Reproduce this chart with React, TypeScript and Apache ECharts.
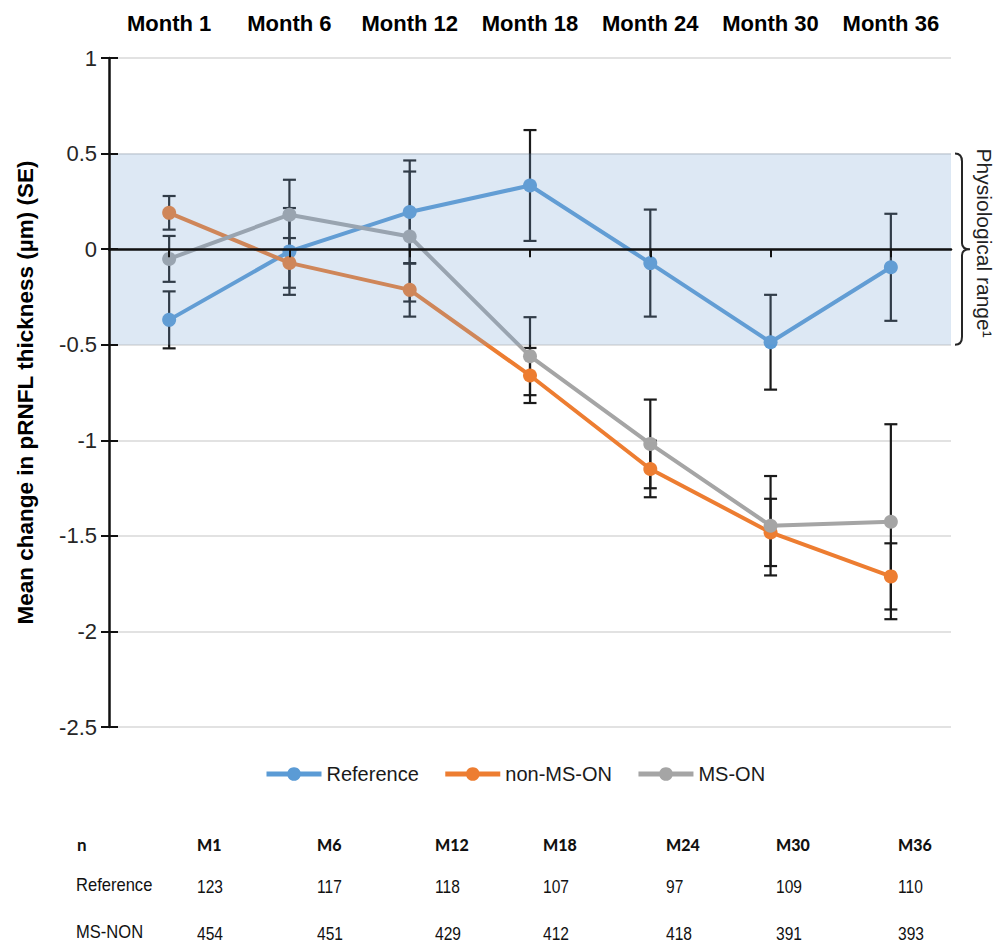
import React, { useEffect, useRef } from "react";
import * as echarts from "echarts";

// ---------- data ----------
const months = ["Month 1", "Month 6", "Month 12", "Month 18", "Month 24", "Month 30", "Month 36"];
const seriesNames = ["Reference", "non-MS-ON", "MS-ON"];

const referenceMean = [-0.37, -0.012, 0.194, 0.333, -0.073, -0.487, -0.095];
const referenceSE = [0.149, 0.227, 0.27, 0.29, 0.28, 0.248, 0.28];

const nonMsOnMean = [0.19, -0.072, -0.213, -0.661, -1.15, -1.482, -1.712];
const nonMsOnSE = [0.088, 0.13, 0.14, 0.144, 0.148, 0.176, 0.173];

const msOnMean = [-0.051, 0.18, 0.066, -0.56, -1.019, -1.447, -1.426];
const msOnSE = [0.12, 0.183, 0.34, 0.204, 0.232, 0.26, 0.51];

const physioMin = -0.5;
const physioMax = 0.5;

const tableHeader = ["M1", "M6", "M12", "M18", "M24", "M30", "M36"];
const tableRowLabels = ["Reference", "MS-NON"];
const referenceN = [123, 117, 118, 107, 97, 109, 110];
const msNonN = [454, 451, 429, 412, 418, 391, 393];

// ---------- styles / layout ----------
const COLORS = ["#5b9bd5", "#ed7d31", "#a5a5a5"];
const FONT = "'Liberation Sans', Arial, Helvetica, sans-serif";
const HEAD = "Lato, 'Open Sans', 'Liberation Sans', sans-serif";
const W = 997;
const H = 943;
const GRID = { left: 109, right: 46, top: 58, bottom: 216 };
const tableColX = [197, 317, 435, 543, 666, 776, 898];
const tableRowY = [844, 885, 932];

function errorSeries(name: string, mean: number[], se: number[]) {
  return {
    type: "custom",
    name: name + " SE",
    xAxisIndex: 0,
    yAxisIndex: 0,
    z: 1,
    silent: true,
    data: mean.map((m, i) => [i, m - se[i], m + se[i]]),
    encode: { x: 0, y: [1, 2] },
    renderItem: (params: any, api: any) => {
      const i = api.value(0);
      const lo = api.coord([i, api.value(1)]);
      const hi = api.coord([i, api.value(2)]);
      const hw = 6.5;
      const style = { stroke: "#1a1a1a", lineWidth: 2.2 };
      return {
        type: "group",
        children: [
          { type: "line", shape: { x1: lo[0], y1: lo[1], x2: hi[0], y2: hi[1] }, style },
          { type: "line", shape: { x1: lo[0] - hw, y1: lo[1], x2: lo[0] + hw, y2: lo[1] }, style },
          { type: "line", shape: { x1: hi[0] - hw, y1: hi[1], x2: hi[0] + hw, y2: hi[1] }, style },
        ],
      };
    },
  };
}

function lineSeries(name: string, data: number[], color: string) {
  return {
    type: "line",
    name,
    xAxisIndex: 0,
    yAxisIndex: 0,
    data,
    z: 2,
    symbol: "circle",
    symbolSize: 14,
    lineStyle: { color, width: 4 },
    itemStyle: { color },
    emphasis: { disabled: true },
  };
}

export default function App() {
  const ref = useRef<HTMLDivElement>(null);

  useEffect(() => {
    if (!ref.current) return;
    const chart = echarts.init(ref.current, undefined, { renderer: "svg" });

    const yCommon = { type: "value", min: -2.5, max: 1, interval: 0.5 };

    const option: any = {
      animation: false,
      backgroundColor: "#ffffff",
      textStyle: { fontFamily: FONT },
      grid: { ...GRID, containLabel: false },
      legend: {
        data: seriesNames.map((n) => ({ name: n, itemStyle: {} })),
        left: 259,
        top: 759,
        itemWidth: 55,
        itemHeight: 17,
        itemGap: 24,
        lineStyle: { width: 5 },
        textStyle: { fontSize: 20, color: "#1a1a1a", fontFamily: FONT },
      },
      xAxis: [
        {
          type: "category",
          position: "top",
          data: months,
          boundaryGap: true,
          axisLine: { show: false, onZero: false },
          axisTick: { show: false },
          splitLine: { show: false },
          axisLabel: {
            fontSize: 22,
            fontWeight: "bold",
            color: "#000",
            margin: 24,
            fontFamily: FONT,
            interval: 0,
          },
        },
        {
          type: "category",
          position: "bottom",
          data: months,
          boundaryGap: true,
          z: 10,
          axisLine: { show: true, onZero: true, lineStyle: { color: "#111", width: 2.5 } },
          axisTick: { show: true, alignWithLabel: true, length: 8, lineStyle: { color: "#111", width: 2 } },
          axisLabel: { show: false },
          splitLine: { show: false },
        },
      ],
      yAxis: [
        {
          ...yCommon,
          position: "left",
          name: "Mean change in pRNFL thickness (µm) (SE)",
          nameLocation: "middle",
          nameRotate: 90,
          nameGap: 72,
          nameTextStyle: { fontSize: 22.5, fontWeight: "bold", color: "#000", fontFamily: FONT },
          axisLine: { show: false },
          axisTick: { show: true, inside: false, length: 8, lineStyle: { color: "#111", width: 2 } },
          axisLabel: {
            fontSize: 22,
            color: "#262626",
            margin: 12,
            fontFamily: FONT,
            formatter: (v: number) => String(v),
          },
          splitLine: { show: true, lineStyle: { color: "#d9d9d9", width: 1.5 } },
        },
        {
          ...yCommon,
          position: "left",
          z: 10,
          axisLine: { show: true, onZero: false, lineStyle: { color: "#111", width: 2.5 } },
          axisTick: { show: true, inside: true, length: 9, lineStyle: { color: "#111", width: 2 } },
          axisLabel: { show: false },
          splitLine: { show: false },
        },
      ],
      series: [
        errorSeries(seriesNames[0], referenceMean, referenceSE),
        errorSeries(seriesNames[1], nonMsOnMean, nonMsOnSE),
        errorSeries(seriesNames[2], msOnMean, msOnSE),
        lineSeries(seriesNames[0], referenceMean, COLORS[0]),
        lineSeries(seriesNames[1], nonMsOnMean, COLORS[1]),
        lineSeries(seriesNames[2], msOnMean, COLORS[2]),
        {
          type: "custom",
          name: "Physiological range",
          xAxisIndex: 0,
          yAxisIndex: 0,
          z: 5,
          silent: true,
          data: [[0, physioMin, physioMax]],
          encode: { x: 0, y: [1, 2] },
          renderItem: (params: any, api: any) => {
            const cs = params.coordSys;
            const top = api.coord([0, api.value(2)])[1];
            const bot = api.coord([0, api.value(1)])[1];
            return {
              type: "rect",
              shape: { x: cs.x, y: top, width: cs.width, height: bot - top },
              style: { fill: "rgba(119,163,211,0.25)" },
            };
          },
        },
      ],
    };

    chart.setOption(option);

    // decorations: brace + rotated label + n table
    const yTop = chart.convertToPixel({ yAxisIndex: 0 }, physioMax) as number;
    const yBot = chart.convertToPixel({ yAxisIndex: 0 }, physioMin) as number;
    const yMid = (yTop + yBot) / 2;
    const xTip = W - GRID.right + 4;
    const xLine = xTip + 7;
    const xMid = xTip + 15;
    const d =
      `M ${xTip} ${yTop} Q ${xLine} ${yTop} ${xLine} ${yTop + 8} ` +
      `L ${xLine} ${yMid - 6} Q ${xLine} ${yMid} ${xMid} ${yMid} ` +
      `Q ${xLine} ${yMid} ${xLine} ${yMid + 6} L ${xLine} ${yBot - 8} ` +
      `Q ${xLine} ${yBot} ${xTip} ${yBot}`;
    echarts.graphic.registerShape("physioBrace", echarts.graphic.extendPath(d, {}) as any);

    const graphics: any[] = [
      {
        type: "physioBrace",
        x: 0,
        y: 0,
        silent: true,
        style: { fill: "none", stroke: "#262626", lineWidth: 2 },
      },
      {
        type: "text",
        x: xMid + 14,
        y: yMid - 6,
        rotation: -Math.PI / 2,
        silent: true,
        style: {
          text: "Physiological range¹",
          fontSize: 21,
          fontFamily: FONT,
          fill: "#222",
          align: "center",
          verticalAlign: "middle",
        },
      },
      {
        type: "text",
        x: 77,
        y: tableRowY[0],
        style: { text: "n", fontSize: 17, fontWeight: "bold", fontFamily: HEAD, fill: "#111", verticalAlign: "middle" },
      },
    ];
    tableHeader.forEach((h, i) => {
      graphics.push({
        type: "text",
        x: tableColX[i],
        y: tableRowY[0],
        style: { text: h, fontSize: 16, fontWeight: 900, fontFamily: HEAD, fill: "#111", verticalAlign: "middle" },
      });
    });
    const rows = [referenceN, msNonN];
    rows.forEach((row, r) => {
      graphics.push({
        type: "text",
        x: 76,
        y: tableRowY[r + 1],
        scaleX: 0.92,
        style: { text: tableRowLabels[r], fontSize: 18, fontFamily: FONT, fill: "#111", verticalAlign: "middle" },
      });
      row.forEach((v, i) => {
        graphics.push({
          type: "text",
          x: tableColX[i],
          y: tableRowY[r + 1] + 1,
          scaleX: 0.82,
          style: { text: String(v), fontSize: 19, fontFamily: FONT, fill: "#111", verticalAlign: "middle" },
        });
      });
    });

    chart.setOption({ graphic: graphics });

    return () => {
      chart.dispose();
    };
  }, []);

  return (
    <div
      ref={ref}
      style={{ position: "fixed", left: 0, top: 0, width: W, height: H, background: "#fff" }}
    />
  );
}
